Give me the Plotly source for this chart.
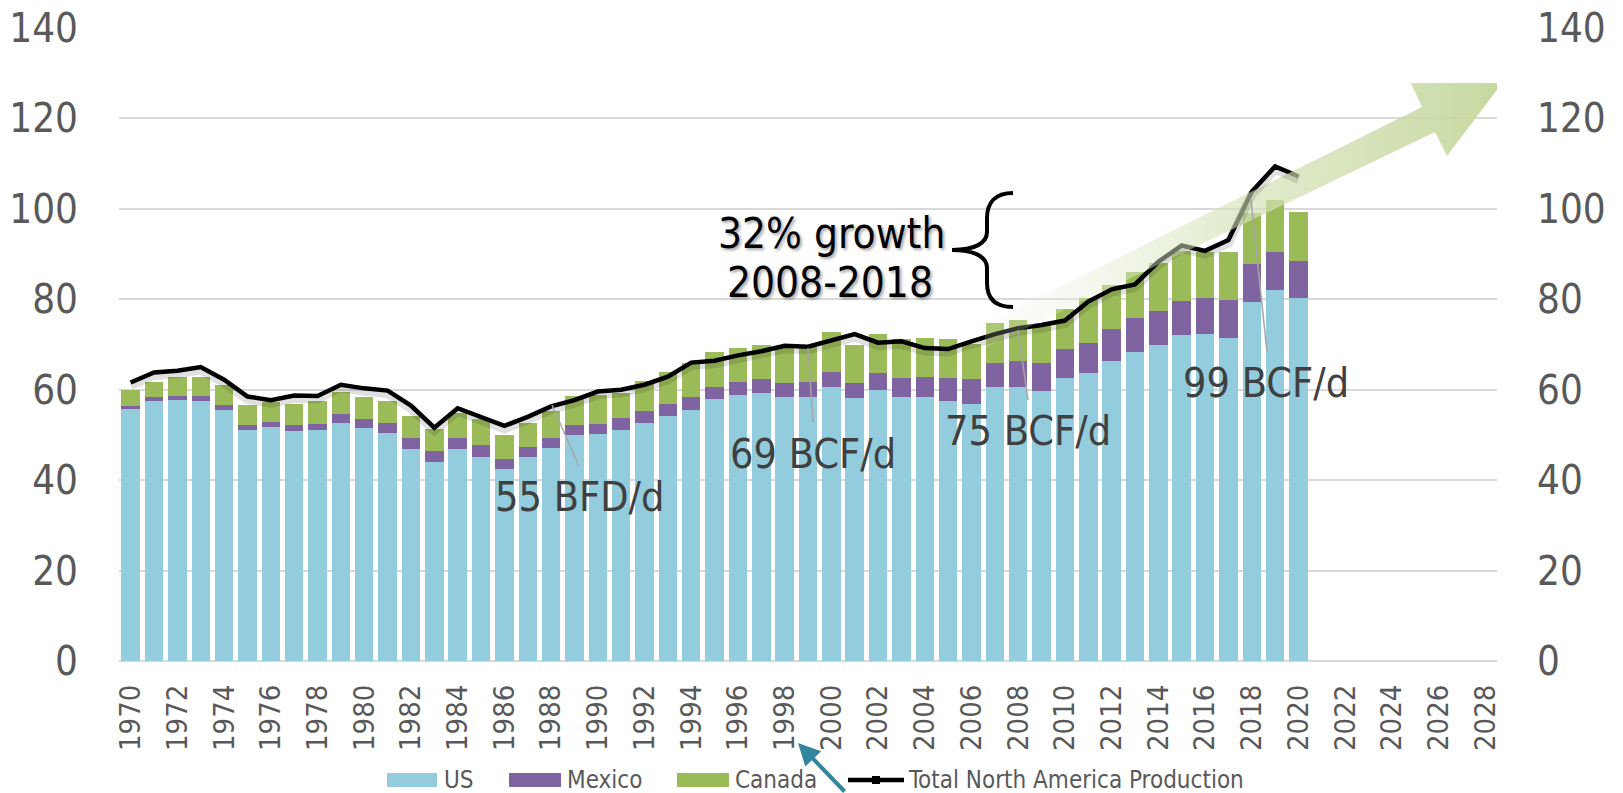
import plotly.graph_objects as go

# ── data (BCF/d) ──────────────────────────────────────────────────────────────
years = list(range(1970, 2021))
us = [55.7, 57.4, 57.8, 57.5, 55.5, 51.0, 51.8, 50.9, 51.0, 52.7,
      51.5, 50.4, 46.9, 44.0, 46.8, 45.2, 42.4, 45.1, 47.0, 50.0,
      50.1, 51.1, 52.7, 54.2, 55.5, 57.9, 58.8, 59.3, 58.3, 58.5,
      60.6, 58.1, 60.0, 58.3, 58.3, 57.6, 56.8, 60.5, 60.7, 59.7,
      62.7, 63.6, 66.4, 68.4, 69.9, 72.0, 72.3, 71.5, 79.5, 82.1,
      80.2]
mexico = [0.7, 0.9, 0.9, 1.1, 1.1, 1.1, 1.1, 1.2, 1.5, 1.9,
          2.1, 2.3, 2.4, 2.5, 2.6, 2.6, 2.2, 2.3, 2.4, 2.3,
          2.4, 2.7, 2.7, 2.7, 2.8, 2.8, 2.8, 3.0, 3.1, 3.1,
          3.4, 3.4, 3.8, 4.2, 4.6, 5.0, 5.5, 5.3, 5.7, 6.3,
          6.3, 6.8, 7.1, 7.4, 7.6, 7.7, 7.9, 8.4, 8.4, 8.4,
          8.3]
canada = [3.6, 3.5, 4.1, 4.3, 4.4, 4.5, 4.3, 4.8, 5.0, 5.0,
          4.7, 4.7, 4.9, 4.8, 5.4, 5.7, 5.4, 5.3, 5.8, 6.3,
          6.3, 5.4, 6.5, 7.0, 7.6, 7.6, 7.7, 7.7, 8.3, 7.8,
          8.7, 8.3, 8.5, 8.7, 8.5, 8.6, 7.9, 9.0, 9.0, 8.3,
          8.9, 9.8, 9.7, 10.3, 10.5, 11.0, 10.3, 10.6, 11.2, 11.5,
          10.9]
total = [61.6, 63.8, 64.2, 65.0, 62.2, 58.5, 57.7, 58.7, 58.6, 61.1,
         60.3, 59.8, 56.5, 51.6, 55.9, 53.9, 52.0, 54.0, 56.3, 57.7,
         59.6, 60.0, 61.1, 62.9, 66.0, 66.4, 67.6, 68.5, 69.7, 69.5,
         70.8, 72.3, 70.4, 70.7, 69.2, 69.0, 70.7, 72.3, 73.6, 74.3,
         75.3, 79.5, 82.2, 83.3, 88.3, 91.9, 90.7, 93.1, 103.8, 109.4,
         107.2]
tick_years = list(range(1970, 2029, 2))
y_ticks = list(range(0, 141, 20))

# ── layout geometry (page pixels of the 1623x793 window) ──────────────────────
PAGE_W, PAGE_H = 1623, 793
BODY = 8                      # browser default body margin (top/left offset)
W, H = PAGE_W - BODY, PAGE_H - BODY
L, R, T, B = 119, 1497, 28, 661
X0, X1 = 1969.5, 2028.5
Y0, Y1 = 0, 140

FONT = 'DejaVu Sans Condensed, DejaVu Sans, sans-serif'
GREY = '#595959'


def pxp(x):  # page pixel x -> paper
    return (x - L) / (R - L)


def pyp(y):  # page pixel y -> paper
    return (B - y) / (B - T)


def pxd(x):  # page pixel x -> data x
    return X0 + (x - L) / (R - L) * (X1 - X0)


def pyd(y):  # page pixel y -> data y
    return Y0 + (B - y) / (B - T) * (Y1 - Y0)


fig = go.Figure()
for name, vals, col in [('US', us, '#93CDDD'),
                        ('Mexico', mexico, '#8064A2'),
                        ('Canada', canada, '#9BBB59')]:
    fig.add_trace(go.Bar(x=years, y=vals, name=name, width=0.79,
                         marker=dict(color=col, line=dict(width=0))))

# soft shadow under the total line, then the line itself
fig.add_trace(go.Scatter(x=years, y=total, mode='lines', showlegend=False,
                         hoverinfo='skip', yaxis='y3',
                         line=dict(color='rgba(0,0,0,0.12)', width=9)))
fig.add_trace(go.Scatter(x=years, y=total, mode='lines',
                         name='Total North America Production',
                         line=dict(color='black', width=4.5)))

# ── big translucent growth arrow ──────────────────────────────────────────────
arrow_px = [(985, 324), (1422, 107), (1411, 83), (1502, 83),
            (1447, 156), (1435, 132), (985, 348), (985, 324)]
fig.add_trace(go.Scatter(
    x=[pxd(p[0]) for p in arrow_px], y=[pyd(p[1]) for p in arrow_px],
    mode='lines', fill='toself', line=dict(width=0, color='rgba(0,0,0,0)'),
    fillgradient=dict(type='horizontal', colorscale=[
        [0, 'rgba(240,244,232,0.2)'],
        [0.45, 'rgba(214,228,186,0.65)'],
        [1, 'rgba(195,214,155,0.95)']]),
    showlegend=False, hoverinfo='skip'))

# right-hand axis mirror
fig.add_trace(go.Scatter(x=[years[0]], y=[0], yaxis='y2', mode='markers',
                         marker=dict(opacity=0), showlegend=False,
                         hoverinfo='skip'))

shapes = []
annotations = []

# curly brace
bp = [(1013, 193), (995, 193), (987, 203), (987, 218), (987, 232),
      (987, 243), (975, 250), (952, 250), (975, 250), (987, 257),
      (987, 268), (987, 283), (987, 298), (995, 307), (1013, 307)]
q = [f'{pxp(x):.5f},{pyp(y):.5f}' for x, y in bp]
brace = (f'M {q[0]} C {q[1]} {q[2]} {q[3]} L {q[4]} C {q[5]} {q[6]} {q[7]} '
         f'C {q[8]} {q[9]} {q[10]} L {q[11]} C {q[12]} {q[13]} {q[14]}')
shapes.append(dict(type='path', xref='paper', yref='paper', path=brace,
                   line=dict(color='black', width=4)))

# leader lines
for (xa, ya), (xb, yb) in [((552, 405), (579, 466)),
                           ((808, 348), (813, 422)),
                           ((1018, 330), (1028, 400)),
                           ((1251, 200), (1267, 352))]:
    shapes.append(dict(type='line', xref='paper', yref='paper',
                       x0=pxp(xa), y0=pyp(ya), x1=pxp(xb), y1=pyp(yb),
                       line=dict(color='#A6A6A6', width=1.5)))

shadow = '2px 2px 3px rgba(0,0,0,0.35)'
for txt, x, y in [('32% growth', 831, 233), ('2008-2018', 830, 282)]:
    annotations.append(dict(text=txt, x=pxp(x), y=pyp(y), xref='paper',
                            yref='paper', showarrow=False, xanchor='center',
                            yanchor='middle',
                            font=dict(family=FONT, size=42, color='black',
                                      shadow=shadow)))

for txt, x, y in [('55 BFD/d', 579, 497), ('69 BCF/d', 813, 454),
                  ('75 BCF/d', 1028, 431), ('99 BCF/d', 1266, 383)]:
    annotations.append(dict(text=txt, x=pxp(x), y=pyp(y), xref='paper',
                            yref='paper', showarrow=False, xanchor='center',
                            yanchor='middle',
                            font=dict(family=FONT, size=41, color='#404040')))

# teal pointer at the bottom
annotations.append(dict(text='', x=pxp(798), y=pyp(743), xref='paper',
                        yref='paper', showarrow=True, ax=48, ay=58,
                        arrowhead=2, arrowsize=1.1, arrowwidth=4,
                        arrowcolor='#31859C'))

# custom legend
for (x0, x1), col in [((387, 437), '#93CDDD'), ((509, 561), '#8064A2'),
                      ((677, 729), '#9BBB59')]:
    shapes.append(dict(type='rect', xref='paper', yref='paper',
                       x0=pxp(x0), x1=pxp(x1), y0=pyp(787), y1=pyp(773),
                       fillcolor=col, line=dict(width=0)))
shapes.append(dict(type='line', xref='paper', yref='paper',
                   x0=pxp(848), x1=pxp(904), y0=pyp(780), y1=pyp(780),
                   line=dict(color='black', width=4.5)))
shapes.append(dict(type='rect', xref='paper', yref='paper',
                   x0=pxp(872), x1=pxp(880), y0=pyp(784), y1=pyp(776),
                   fillcolor='black', line=dict(width=0)))
for txt, x in [('US', 442), ('Mexico', 565), ('Canada', 733),
               ('Total North America Production', 906)]:
    annotations.append(dict(text=txt, x=pxp(x), y=pyp(780), xref='paper',
                            yref='paper', showarrow=False, xanchor='left',
                            yanchor='middle',
                            font=dict(family=FONT, size=24, color=GREY)))

fig.update_layout(
    width=W, height=H,
    margin=dict(l=L - BODY, r=PAGE_W - R, t=T - BODY, b=PAGE_H - B, pad=0),
    barmode='stack', bargap=0,
    plot_bgcolor='white', paper_bgcolor='white',
    showlegend=False,
    font=dict(family=FONT, color=GREY),
    xaxis=dict(range=[X0, X1], tickmode='array', tickvals=tick_years,
               ticktext=[str(v) for v in tick_years], tickangle=-90,
               tickfont=dict(size=29, color=GREY), showgrid=False,
               zeroline=False, showline=False, automargin=False,
               ticklabeloverflow='allow',
               ticks='outside', ticklen=11, tickcolor='rgba(0,0,0,0)'),
    yaxis=dict(range=[Y0, Y1], tickvals=y_ticks, showgrid=True,
               gridcolor='#D9D9D9', gridwidth=1.5, zeroline=True,
               zerolinecolor='#D9D9D9', zerolinewidth=2, automargin=False,
               ticklabeloverflow='allow',
               tickfont=dict(size=40, color=GREY),
               ticks='outside', ticklen=32, tickcolor='rgba(0,0,0,0)'),
    yaxis2=dict(range=[Y0, Y1], tickvals=y_ticks, overlaying='y',
                side='right', showgrid=False, zeroline=False,
                automargin=False, ticklabeloverflow='allow',
                tickfont=dict(size=40, color=GREY),
                ticks='outside', ticklen=31, tickcolor='rgba(0,0,0,0)'),
    # shadow axis: same scale shifted 3 px down
    yaxis3=dict(range=[Y0 + 3 * (Y1 - Y0) / (B - T), Y1 + 3 * (Y1 - Y0) / (B - T)],
                overlaying='y', visible=False, automargin=False),
    shapes=shapes,
    annotations=annotations,
)

fig.write_html('out.html')
